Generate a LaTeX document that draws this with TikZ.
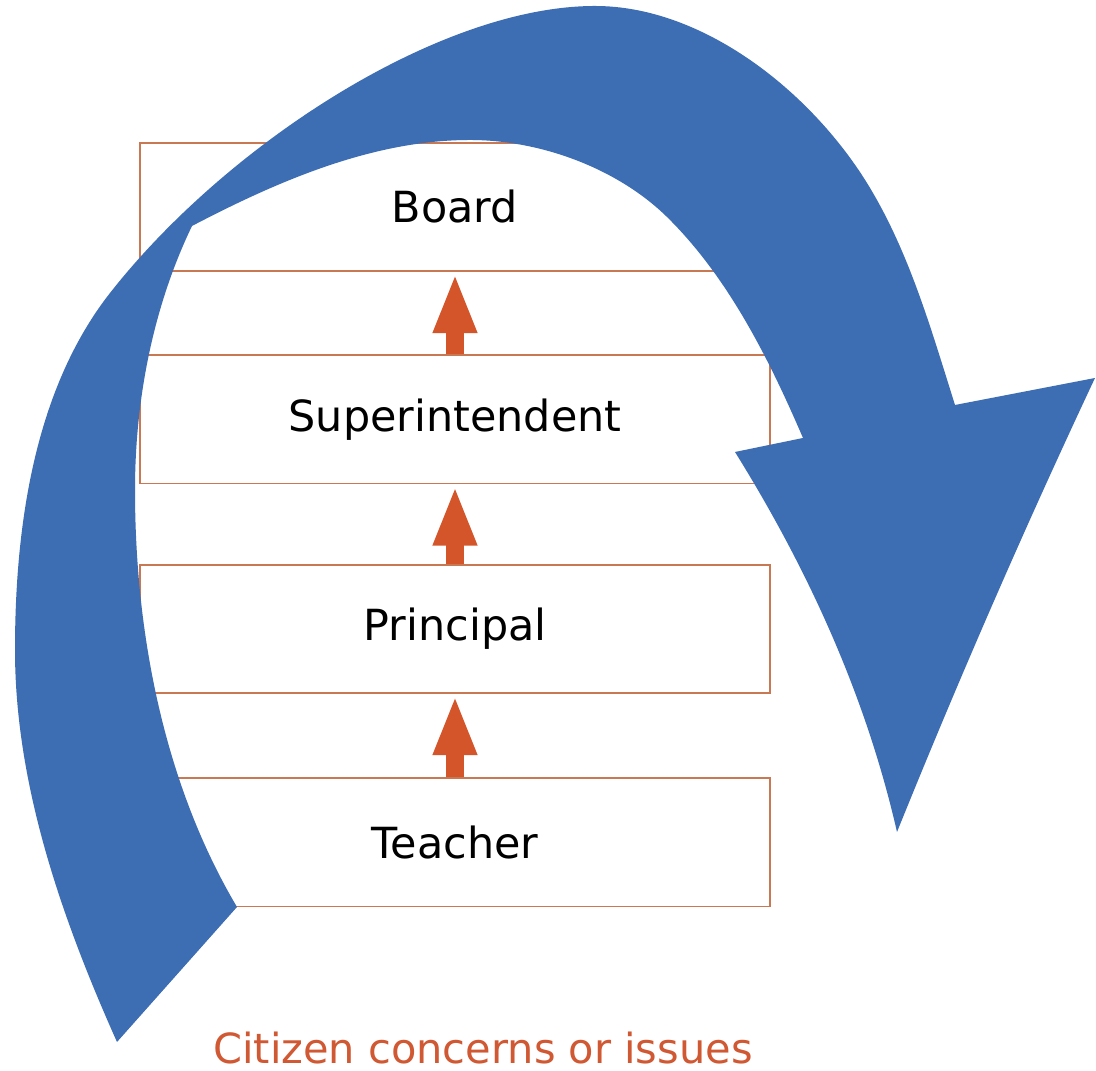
\documentclass[tikz,border=0pt]{standalone}
\usepackage{fontspec}
\setmainfont{DejaVu Sans}
\usetikzlibrary{arrows.meta}
\definecolor{arcblue}{RGB}{61,109,179}
\definecolor{boxline}{RGB}{200,120,82}
\definecolor{uparrow}{RGB}{213,85,42}
\definecolor{citetext}{RGB}{208,88,50}
\tikzset{
  levelbox/.style={draw=boxline, line width=0.55pt, fill=white, minimum width=6.3cm, minimum height=1.28cm, inner sep=0pt, font=\fontsize{12.2}{14}\selectfont},
  uplink/.style={uparrow, line width=0.18cm, -{Triangle[length=0.6cm, width=0.4cm]}, shorten >=0.3pt},
  caption/.style={text=citetext, inner sep=0pt, font=\fontsize{11.8}{14}\selectfont}
}
\begin{document}
\begin{tikzpicture}[x=0.01cm, y=-0.01cm]
\useasboundingbox (0,0) rectangle (1096,1071);
\fill[white] (0,0) rectangle (1096,1071);
% boxes
\node[levelbox] (board) at (455,207) {Board};
\node[levelbox] (super) at (455,419.5) {Superintendent};
\node[levelbox] (principal) at (455,629) {Principal};
\node[levelbox] (teacher) at (455,842.5) {Teacher};
% small arrows
\draw[uplink] (super.north) -- (board.south);
\draw[uplink] (principal.north) -- (super.south);
\draw[uplink] (teacher.north) -- (principal.south);
% big curved arrow
\fill[arcblue]
  (117,1042) .. controls (62,919) and (15,785) .. (15,650)
  .. controls (15,527) and (34,390) .. (110,293)
  .. controls (227,144) and (440,6) .. (595,6)
  .. controls (703,6) and (810,91) .. (867,183)
  .. controls (909,251) and (931,329) .. (955,405)
  -- (1095,378)
  .. controls (1024,529) and (958,681) .. (897,832)
  .. controls (868,705) and (814,579) .. (735,452)
  -- (803,438)
  .. controls (769,359) and (728,277) .. (667,217)
  .. controls (617,168) and (540,140) .. (470,140)
  .. controls (373,140) and (278,181) .. (192,226)
  .. controls (153,307) and (135,400) .. (135,490)
  .. controls (135,633) and (164,784) .. (237,907)
  -- cycle;
% caption
\node[caption, anchor=base] (citizen) at (483,1064) {Citizen concerns or issues};
\end{tikzpicture}
\end{document}
